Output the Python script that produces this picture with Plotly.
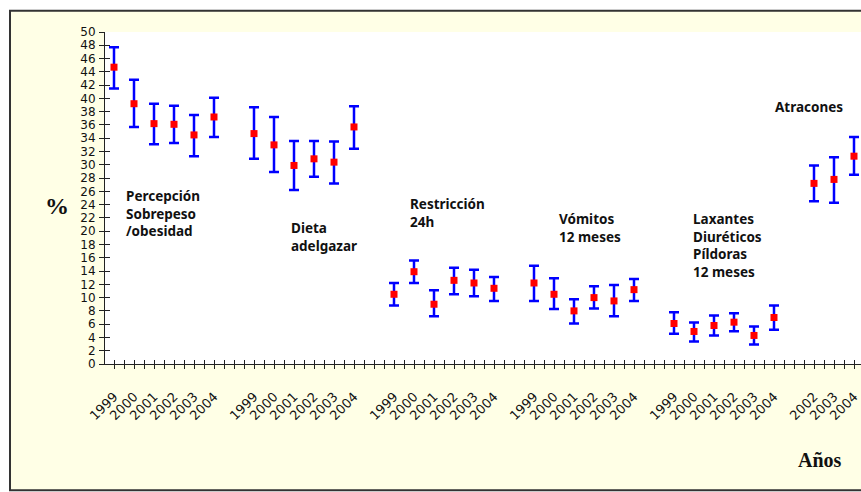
import plotly.graph_objects as go

# ---------------- data ----------------
group_labels = [
    "Percepción<br>Sobrepeso<br>/obesidad",
    "Dieta<br>adelgazar",
    "Restricción<br>24h",
    "Vómitos<br>12 meses",
    "Laxantes<br>Diuréticos<br>Píldoras<br>12 meses",
    "Atracones",
]
years_full = ["1999", "2000", "2001", "2002", "2003", "2004"]
years_atracones = ["2002", "2003", "2004"]

percepcion = [44.7, 39.2, 36.2, 36.1, 34.5, 37.2]
percepcion_up = [3.0, 3.6, 3.0, 2.8, 3.0, 2.9]
percepcion_down = [3.2, 3.5, 3.1, 2.8, 3.2, 3.0]

dieta = [34.7, 33.0, 29.9, 30.9, 30.4, 35.7]
dieta_up = [3.95, 4.2, 3.7, 2.7, 3.1, 3.1]
dieta_down = [3.8, 4.1, 3.7, 2.7, 3.2, 3.3]

restriccion = [10.5, 13.9, 9.0, 12.6, 12.2, 11.4]
restriccion_up = [1.7, 1.7, 2.1, 1.9, 2.0, 1.7]
restriccion_down = [1.7, 1.7, 1.8, 2.1, 2.0, 1.9]

vomitos = [12.2, 10.5, 8.0, 10.0, 9.5, 11.2]
vomitos_up = [2.6, 2.4, 1.75, 1.7, 2.4, 1.6]
vomitos_down = [2.7, 2.2, 1.9, 1.65, 2.3, 1.7]

laxantes = [6.1, 4.9, 5.8, 6.3, 4.3, 7.0]
laxantes_up = [1.7, 1.35, 1.5, 1.35, 1.35, 1.8]
laxantes_down = [1.55, 1.5, 1.5, 1.35, 1.35, 1.85]

atracones = [27.2, 27.8, 31.3]
atracones_up = [2.7, 3.35, 2.9]
atracones_down = [2.7, 3.5, 2.8]

series = [
    (years_full, percepcion, percepcion_up, percepcion_down),
    (years_full, dieta, dieta_up, dieta_down),
    (years_full, restriccion, restriccion_up, restriccion_down),
    (years_full, vomitos, vomitos_up, vomitos_down),
    (years_full, laxantes, laxantes_up, laxantes_down),
    (years_atracones, atracones, atracones_up, atracones_down),
]

# ---------------- layout helpers (pixel -> paper) ----------------
W, H = 861, 492
PL, PR = 105, 861          # plot area left/right px
PT, PB = 32.3, 364.3       # plot area top/bottom px


def fx(px):
    return (px - PL) / (PR - PL)


def fy(py):
    return (PB - py) / (PB - PT)


fig = go.Figure()

# category positions: each group followed by one empty slot
pos = 0
tick_pos = []
tick_txt = []
for years, vals, up, down in series:
    xs = list(range(pos, pos + len(years)))
    fig.add_trace(go.Scatter(
        x=xs, y=vals, mode="markers",
        marker=dict(symbol="square", size=7, color="#FF0000"),
        error_y=dict(type="data", array=up, arrayminus=down, symmetric=False,
                     color="#0000FF", thickness=2.5, width=5),
        showlegend=False, cliponaxis=False, hoverinfo="skip",
    ))
    tick_pos += xs
    tick_txt += years
    pos += len(years) + 1

# all tick positions every half slot, labels only at data points
all_ticks = [i * 0.5 for i in range(-1, 76)]
all_text = []
for t in all_ticks:
    if float(t).is_integer() and int(t) in tick_pos:
        all_text.append(tick_txt[tick_pos.index(int(t))])
    else:
        all_text.append("")

xrange = [-0.45, 37.35]
yrange = [0, 50]

# invisible trace for overlay axes
fig.add_trace(go.Scatter(x=[0], y=[0], xaxis="x2", yaxis="y2", mode="markers",
                         marker=dict(opacity=0), showlegend=False, hoverinfo="skip"))

fig.update_layout(
    width=W, height=H,
    margin=dict(l=PL, r=W - PR, t=PT, b=H - PB),
    paper_bgcolor="white", plot_bgcolor="white",
    showlegend=False,
    xaxis=dict(range=xrange, tickmode="array", tickvals=all_ticks, ticktext=all_text,
               tickangle=-45, ticks="outside", ticklen=4, tickcolor="#222",
               showline=True, linecolor="#222", linewidth=1, showgrid=False,
               zeroline=False, tickfont=dict(family="DejaVu Sans", size=13, color="#111"),
               ticklabelstandoff=15),
    yaxis=dict(range=yrange, dtick=2, ticks="outside", ticklen=5, tickcolor="#222",
               showline=True, linecolor="#222", linewidth=1, showgrid=False,
               zeroline=False, tickfont=dict(family="DejaVu Sans", size=12, color="#111"),
               ticklabelstandoff=1),
    xaxis2=dict(range=xrange, overlaying="x", anchor="y", side="bottom",
                tickmode="linear", tick0=0, dtick=0.5, ticks="inside", ticklen=4,
                tickcolor="#222", showticklabels=False, showline=False,
                showgrid=False, zeroline=False),
    yaxis2=dict(range=yrange, overlaying="y", anchor="x", side="left",
                tickmode="linear", tick0=0, dtick=2, ticks="inside", ticklen=5,
                tickcolor="#222", showticklabels=False, showline=False,
                showgrid=False, zeroline=False),
)

# background frame (cream panel) and white plot area
fig.add_shape(type="rect", xref="paper", yref="paper",
              x0=fx(10), x1=fx(905), y0=fy(490.5), y1=fy(11),
              fillcolor="#FFFFE6", line=dict(color="#333333", width=2), layer="below")
fig.add_shape(type="rect", xref="paper", yref="paper",
              x0=0, x1=1.02, y0=0, y1=1,
              fillcolor="white", line=dict(width=0), layer="below")

# group labels
label_pos = [(124, 195), (289, 227), (408, 203), (557, 218), (691, 218), (773, 106)]
for text, (lx, ly) in zip(group_labels, label_pos):
    fig.add_annotation(xref="paper", yref="paper", x=fx(lx), y=fy(ly - 10),
                       xanchor="left", yanchor="top", align="left", showarrow=False,
                       text=text,
                       font=dict(family="Noto Sans", size=13.5, color="#111", weight="bold"))

fig.add_annotation(xref="paper", yref="paper", x=fx(57), y=fy(206),
                   xanchor="center", yanchor="middle", showarrow=False, text="%",
                   font=dict(family="Liberation Serif", size=24, color="#111", weight="bold"))
fig.add_annotation(xref="paper", yref="paper", x=fx(820), y=fy(460),
                   xanchor="center", yanchor="middle", showarrow=False, text="Años",
                   font=dict(family="Liberation Serif", size=20, color="#111", weight="bold"))

fig.write_html("out.html")
